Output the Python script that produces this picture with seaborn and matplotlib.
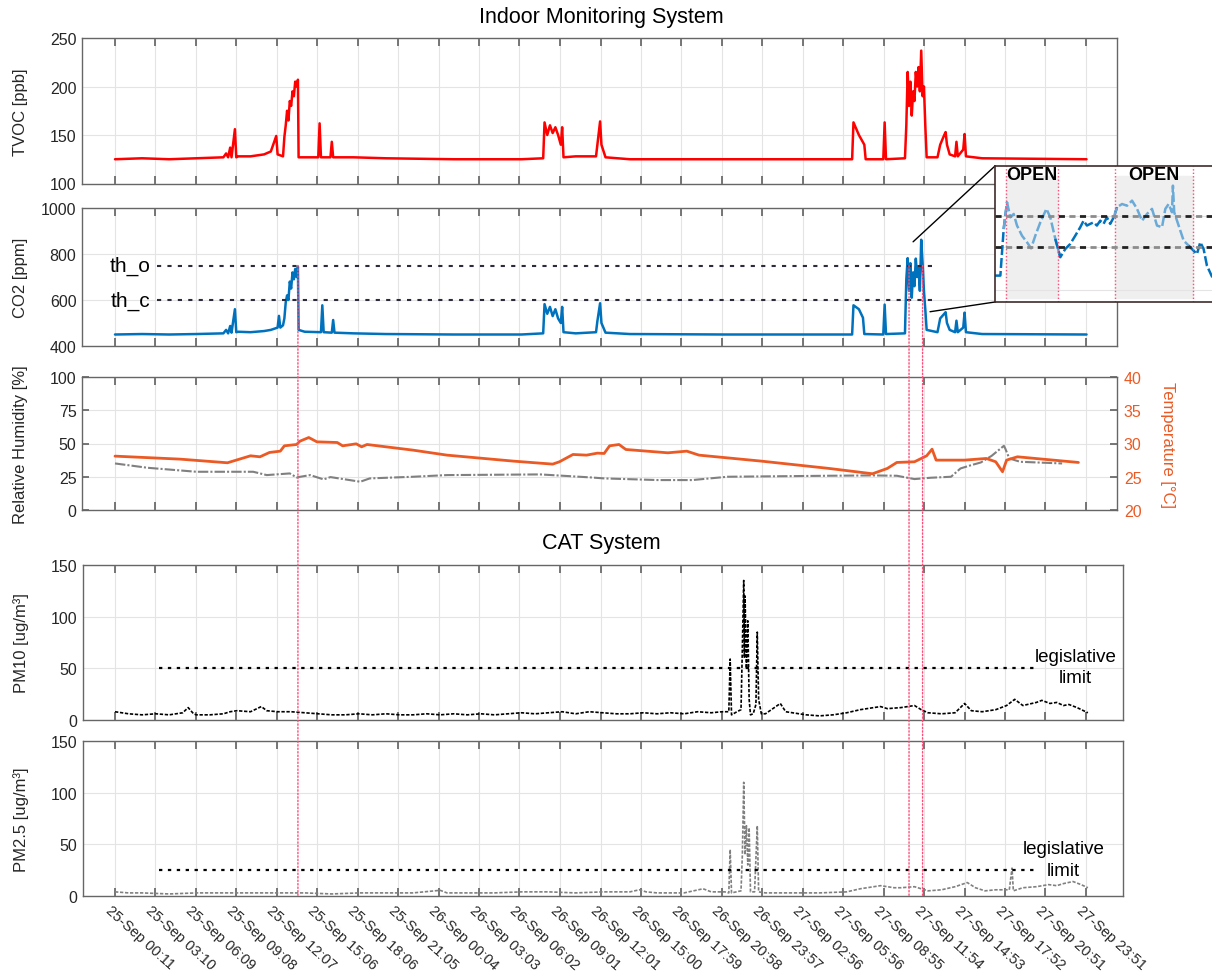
import numpy as np
import pandas as pd
import matplotlib
matplotlib.use('Agg')
import matplotlib.pyplot as plt
from matplotlib.patches import ConnectionPatch
from matplotlib.transforms import ScaledTranslation
import seaborn as sns

# ---------------------------------------------------------------
# data (hours from 25-Sep 00:11)
# ---------------------------------------------------------------
tick_labels = ['25-Sep 00:11', '25-Sep 03:10', '25-Sep 06:09', '25-Sep 09:08', '25-Sep 12:07',
               '25-Sep 15:06', '25-Sep 18:06', '25-Sep 21:05', '26-Sep 00:04', '26-Sep 03:03',
               '26-Sep 06:02', '26-Sep 09:01', '26-Sep 12:01', '26-Sep 15:00', '26-Sep 17:59',
               '26-Sep 20:58', '26-Sep 23:57', '27-Sep 02:56', '27-Sep 05:56', '27-Sep 08:55',
               '27-Sep 11:54', '27-Sep 14:53', '27-Sep 17:52', '27-Sep 20:51', '27-Sep 23:51']

tvoc_h = [0, 2, 4, 6, 8, 8.2, 8.35, 8.5, 8.6, 8.85, 8.95, 9.1,
          10, 11, 11.5, 11.9, 12.0, 12.4,
          12.5, 12.6, 12.7, 12.8, 12.9, 13.0, 13.1, 13.2, 13.3, 13.4, 13.5, 13.55,
          14, 15.0, 15.1, 15.2, 15.9, 16.0, 16.1, 17.6, 20, 25, 30,
          31.6, 31.7, 31.9, 32.1, 32.3, 32.5, 32.7, 32.9, 33.0, 33.1, 34,
          35.5, 35.6, 35.8, 35.9, 36.2, 38, 45, 50,
          54.4, 54.5, 54.9, 55.3, 55.4, 56.7, 56.8, 56.9,
          58.3, 58.4, 58.5, 58.6, 58.7, 58.8, 58.9, 59.0, 59.1, 59.2, 59.3, 59.4, 59.5, 59.6, 59.7, 59.8, 59.9,
          60.7, 60.9, 61.2, 61.3, 61.4, 61.6, 62.0, 62.1, 62.2, 62.6, 62.7, 62.8, 64, 71.7]
tvoc = [125, 126, 125, 126, 127, 131, 127, 137, 127, 156, 127, 128,
        128, 130, 133, 149, 130, 128,
        148, 160, 175, 165, 185, 180, 195, 190, 205, 200, 207, 127,
        127, 127, 162, 127, 127, 143, 127, 127, 126, 125, 125,
        126, 163, 150, 160, 152, 158, 150, 140, 158, 127, 128,
        128, 140, 164, 140, 127, 125, 125, 125,
        125, 163, 150, 140, 125, 125, 163, 125,
        126, 160, 215, 180, 205, 170, 195, 185, 215, 200, 220, 195, 237, 190, 200, 160, 127,
        127, 140, 150, 153, 140, 130, 128, 143, 128, 135, 151, 128, 126, 125]

co2_h = [0, 2, 4, 6, 8, 8.2, 8.35, 8.5, 8.6, 8.85, 8.95, 9.1,
         10, 11, 11.5, 12.0, 12.1, 12.2, 12.4,
         12.5, 12.6, 12.7, 12.8, 12.9, 13.0, 13.1, 13.2, 13.3, 13.4, 13.5, 13.55,
         14, 15.2, 15.3, 15.4, 16.0, 16.1, 16.2, 17.6, 20, 25, 30,
         31.6, 31.7, 31.9, 32.1, 32.3, 32.5, 32.7, 32.9, 33.0, 33.1, 34,
         35.5, 35.6, 35.8, 35.9, 36.2, 38, 45, 50,
         54.4, 54.5, 54.9, 55.2, 55.3, 56.7, 56.8, 56.9,
         58.3, 58.4, 58.5, 58.6, 58.7, 58.8, 58.9, 59.0, 59.1, 59.2, 59.3, 59.4, 59.5, 59.6, 59.7, 59.8, 59.9,
         60.7, 60.9, 61.2, 61.3, 61.4, 61.6, 62.0, 62.1, 62.2, 62.6, 62.7, 62.8, 64, 71.7]
co2 = [450, 452, 450, 452, 455, 470, 455, 487, 458, 560, 460, 462,
       460, 465, 470, 480, 531, 480, 490,
       520, 590, 620, 600, 680, 650, 720, 690, 735, 700, 745, 470,
       462, 460, 577, 460, 458, 513, 458, 455, 452, 450, 450,
       455, 582, 540, 570, 530, 560, 520, 500, 570, 460, 455,
       460, 508, 586, 500, 458, 452, 450, 450,
       450, 577, 560, 523, 452, 450, 580, 452,
       455, 690, 782, 640, 760, 610, 720, 660, 780, 700, 740, 640, 862, 760, 640, 560, 470,
       460, 520, 540, 547, 500, 470, 460, 510, 460, 480, 545, 460, 452, 450]

rh_h = [0, 2.4, 6, 10.2, 11.2, 12.9, 13.4, 14.4, 15.4, 15.9, 18.1, 18.8, 22, 24.5, 31.4,
        35.1, 36.1, 40.1, 42.6, 45.2, 52.7, 55.9, 57.7, 59, 60.2, 61.7, 62.4, 63.2, 63.9,
        64.7, 65.6, 65.7, 66, 66.8, 69.9]
rh = [35, 31.75, 28.75, 28.75, 26.25, 27.5, 24.5, 26.25, 23, 24.75, 21.25, 23.75, 25, 26.25, 26.75,
      24.5, 23.75, 22.5, 22.5, 25, 25.75, 26, 25.75, 23.25, 24.25, 25, 31.25, 33.75, 35.75,
      40.75, 48.25, 46.25, 38.75, 36.25, 35]

temp_h = [0, 4.8, 8.3, 10.0, 10.7, 11.4, 12.2, 12.5, 13.4, 13.65, 14.3, 14.9, 16.4, 16.8, 17.8,
          18.2, 18.6, 22, 24.5, 29.4, 32.3, 32.8, 33.8, 34.8, 35.6, 36.1, 36.5, 37.2, 37.7, 40.8,
          42.2, 43.1, 47.7, 52.7, 55.9, 57.0, 57.7, 59.0, 59.9, 60.3, 60.6, 62.7, 64.3, 65.0, 65.5,
          65.8, 66.6, 71.1]
temp = [28.1, 27.65, 27.1, 28.15, 28.0, 28.65, 28.85, 29.65, 29.85, 30.35, 30.9, 30.25, 30.15, 29.65, 29.95,
        29.5, 29.85, 29.0, 28.25, 27.35, 26.9, 27.25, 28.35, 28.25, 28.55, 28.5, 29.65, 29.85, 29.1, 28.6,
        28.85, 28.25, 27.35, 26.25, 25.45, 26.25, 27.15, 27.25, 28.15, 29.15, 27.5, 27.5, 27.75, 27.25, 25.75,
        27.5, 28.0, 27.15]

pm10_h = [0, 0.5, 1, 2, 3, 4, 5, 5.4, 5.8, 6,
          7, 8, 8.5, 9, 10, 10.8, 11.2, 12, 13, 14,
          15, 16, 17, 18, 19, 20, 21, 22, 23, 24,
          25, 26, 27, 28, 29, 30, 31, 32, 33, 34,
          35, 36, 37, 38, 39, 40, 41, 42, 43, 44,
          44.8, 45.3, 45.4, 45.5, 45.9, 46.2, 46.3, 46.4, 46.45, 46.5,
          46.6, 46.7, 46.8, 46.9, 47.1, 47.3, 47.4, 47.5, 47.7, 48,
          49.1, 49.5, 50, 51, 52, 53, 54, 55, 56, 56.5,
          57, 58, 59, 59.5, 60, 61, 62, 62.7, 63.2, 64,
          65, 65.8, 66.4, 67, 68, 68.4, 69, 69.5, 70, 70.4,
          71, 71.8]
pm10 = [8, 7, 6, 5, 6, 5, 7, 12, 6, 5,
        5, 6, 8, 9, 8, 13, 9, 8, 8, 7,
        6, 5, 5, 6, 5, 6, 5, 5, 6, 5,
        6, 5, 6, 5, 6, 7, 6, 7, 8, 6,
        8, 7, 6, 6, 7, 6, 7, 6, 8, 7,
        8, 8, 59, 5, 8, 10, 70, 135, 60, 120,
        50, 96, 20, 5, 6, 15, 85, 20, 6, 6,
        16, 8, 7, 5, 4, 5, 7, 10, 12, 13,
        11, 12, 14, 10, 7, 6, 7, 16, 9, 8,
        10, 14, 20, 14, 17, 19, 16, 17, 14, 15,
        12, 7]

pm25_h = [0, 1, 2, 4, 6, 8, 10, 12, 14, 16,
          18, 20, 22, 24, 24.5, 26, 28, 30, 32, 34,
          36, 38, 38.7, 39.2, 40, 42, 43.4, 44, 45, 45.3,
          45.4, 45.5, 46.2, 46.3, 46.4, 46.5, 46.6, 46.7, 46.8, 46.9,
          47.2, 47.4, 47.5, 48, 50, 52, 54, 55, 56, 56.5,
          57.5, 58, 59, 60, 61, 62, 62.9, 63.5, 64.2, 65,
          66, 66.2, 66.3, 67, 68, 68.9, 69.5, 70, 70.7, 71.3,
          71.8]
pm25 = [4, 3, 3, 2, 3, 3, 3, 3, 3, 2,
        3, 3, 3, 5.5, 3, 3, 3, 4, 4, 3,
        4, 4, 6, 4, 3, 3, 7, 4, 4, 3,
        45, 3, 5, 40, 110, 40, 68, 30, 66, 4,
        4, 68, 4, 3, 3, 3, 4, 7, 9, 10,
        8, 8, 9, 5, 6, 9, 13, 8, 5, 6,
        6, 27, 5, 8, 9, 11, 10, 12, 14, 11,
        8]

# zoomed CO2 window (minutes)
ins_min = [0, 2.9, 4.7, 6.5, 8.3, 10.1, 11.9, 14.6, 17.3, 19.5,
           21.8, 24.5, 27.8, 29.9, 32.6, 35.3, 38.0, 40.7, 43.4, 46.1,
           47.9, 49.7, 51.5, 53.3, 55.1, 56.9, 58.7, 60.5, 62.3, 64.2,
           66.0, 68.7, 71.4, 74.1, 76.8, 79.5, 82.2, 84.9, 87.6, 90.3,
           92.1, 93.9, 95.7, 96.2, 96.9, 99.3, 102.0, 104.7, 107.4, 109.2,
           111.0, 112.8, 114.6, 117.5]
ins_co2 = [466, 466, 687, 813, 742, 758, 703, 655, 624, 595,
           655, 718, 782, 742, 640, 553, 592, 616, 655, 695,
           726, 703, 711, 718, 703, 726, 711, 742, 711, 742,
           790, 805, 797, 821, 782, 726, 758, 782, 703, 695,
           782, 805, 766, 892, 766, 703, 632, 608, 584, 568,
           624, 592, 513, 458]
open_periods = [(6.1, 34.1), (65.1, 106.9)]

th_o, th_c = 750, 600
pm10_limit, pm25_limit = 50, 25
event_h = [13.5, 58.6, 59.6]

# ---------------------------------------------------------------
sns.set_theme(style='white')
plt.rcParams['font.family'] = ['Liberation Sans', 'DejaVu Sans']

W, H = 1212, 978
fig = plt.figure(figsize=(W / 100, H / 100), dpi=100)

def px_axes(left, top, right, bottom):
    return fig.add_axes([left / W, 1 - bottom / H, (right - left) / W, (bottom - top) / H])

t = pd.to_datetime(['2020 ' + s for s in tick_labels], format='%Y %d-%b %H:%M')
tick_h = np.asarray((t - t[0]).total_seconds() / 3600)
pxh = 13.55  # pixels per hour

TXT = '#262626'
ORANGE = '#EB5A24'
BLUE = '#0072BD'
RED_EV = '#ff4d79'

def style(ax, left, right, ylim, yticks, ylabel, show_x=False):
    ax.set_xlim((left - 115) / pxh, (right - 115) / pxh)
    ax.set_ylim(ylim)
    ax.set_yticks(yticks)
    ax.set_xticks(tick_h)
    ax.set_xticklabels(tick_labels if show_x else [])
    ax.grid(True, color='#e4e4e4', lw=0.8)
    ax.set_axisbelow(True)
    ax.tick_params(axis='x', direction='in', length=6, top=True, bottom=True, color='#666',
                   labelcolor=TXT, labelsize=10.5, pad=5, labelbottom=show_x)
    ax.tick_params(axis='y', direction='in', length=5, color='#666', labelcolor=TXT,
                   labelsize=11.5, pad=4)
    for s in ax.spines.values():
        s.set_color('#666')
        s.set_linewidth(1)
    ax.set_ylabel(ylabel, fontsize=12, color=TXT)
    ax.yaxis.set_label_coords(-0.052, 0.5)
    ax.set_xlabel('')

ax_tvoc = px_axes(82, 39, 1117, 184.5)
ax_co2 = px_axes(82, 209, 1117, 347)
ax_rh = px_axes(82, 378, 1117, 511)
ax_pm10 = px_axes(83, 566, 1123, 721)
ax_pm25 = px_axes(83, 742, 1123, 897)

# TVOC
sns.lineplot(x=tvoc_h, y=tvoc, ax=ax_tvoc, color='#ff0000', lw=1.8, estimator=None)
style(ax_tvoc, 82, 1117, (100, 250), [100, 150, 200, 250], 'TVOC [ppb]')

# CO2
sns.lineplot(x=co2_h, y=co2, ax=ax_co2, color=BLUE, lw=1.8, estimator=None)
style(ax_co2, 82, 1117, (400, 1000), [400, 600, 800, 1000], 'CO2 [ppm]')
for th, name in [(th_o, 'th_o'), (th_c, 'th_c')]:
    ax_co2.plot([3.1, 60.4], [th, th], color='#2b2b3b', lw=1.5, ls=(0, (2, 3)))
    ax_co2.text(2.6, th, name, ha='right', va='center', fontsize=15, color='black')

# RH + temperature
sns.lineplot(x=rh_h, y=rh, ax=ax_rh, color='#808080', lw=1.5, estimator=None,
             linestyle=(0, (5, 1, 1, 1)))
style(ax_rh, 82, 1117, (0, 100), [0, 25, 50, 75, 100], 'Relative Humidity [%]')
ax_t = ax_rh.twinx()
sns.lineplot(x=temp_h, y=temp, ax=ax_t, color=ORANGE, lw=2.0, estimator=None)
ax_t.set_ylim(20, 40)
ax_t.set_yticks([20, 25, 30, 35, 40])
ax_t.tick_params(axis='y', direction='in', length=5, color='#666', labelcolor=ORANGE,
                 labelsize=11.5, pad=5)
ax_t.set_ylabel('Temperature [°C]', fontsize=12, color=ORANGE, rotation=270, va='bottom')
ax_t.yaxis.set_label_coords(1.0415, 0.5)
for s in ax_t.spines.values():
    s.set_visible(False)

# PM10
sns.lineplot(x=pm10_h, y=pm10, ax=ax_pm10, color='black', lw=1.2, estimator=None,
             linestyle=(0, (2, 1)))
style(ax_pm10, 83, 1123, (0, 150), [0, 50, 100, 150], 'PM10 [ug/m³]')
ax_pm10.plot([3.25, 68.2], [pm10_limit, pm10_limit], color='black', lw=1.6, ls=(0, (1.5, 2.5)))
ax_pm10.text(70.9, 51.5, 'legislative\nlimit', ha='center', va='center', fontsize=13.5,
             color='black', linespacing=1.35)

# PM2.5
sns.lineplot(x=pm25_h, y=pm25, ax=ax_pm25, color='#808080', lw=1.2, estimator=None,
             linestyle=(0, (2, 1)))
style(ax_pm25, 83, 1123, (0, 150), [0, 50, 100, 150], 'PM2.5 [ug/m³]', show_x=True)
ax_pm25.plot([3.25, 68.0], [pm25_limit, pm25_limit], color='black', lw=1.6, ls=(0, (1.5, 2.5)))
ax_pm25.text(70.0, 35.5, 'legislative\nlimit', ha='center', va='center', fontsize=13.5,
             color='black', linespacing=1.35)

shift = ScaledTranslation(-3 / 100, 0, fig.dpi_scale_trans)
for lab in ax_pm25.get_xticklabels():
    lab.set_rotation(-42)
    lab.set_ha('left')
    lab.set_va('top')
    lab.set_rotation_mode('anchor')
    lab.set_transform(lab.get_transform() + shift)

# event lines running from CO2 panel down to PM2.5
for h in event_h:
    con = ConnectionPatch(xyA=(h, th_o), coordsA=ax_co2.transData,
                          xyB=(h, 0), coordsB=ax_pm25.transData,
                          color=RED_EV, lw=1.0, ls=(0, (1, 1.5)), zorder=3)
    fig.add_artist(con)

# titles
fig.text(601 / W, 1 - 18 / H, 'Indoor Monitoring System', ha='center', va='center',
         fontsize=15.5, color='black')
fig.text(601 / W, 1 - 543 / H, 'CAT System', ha='center', va='center',
         fontsize=15.5, color='black')

# inset with the zoomed window
ax_in = px_axes(995, 167, 1216, 303)
ax_in.set_zorder(10)
ax_in.set_facecolor('white')
ax_in.set_xlim(0, 119.5)
ax_in.set_ylim(341, 985)
ins_min_a = np.asarray(ins_min)
edges = [0] + [e for p in open_periods for e in p] + [200]
for k in range(len(edges) - 1):
    a, b = edges[k], edges[k + 1]
    i0 = max(np.searchsorted(ins_min_a, a) - 1, 0)
    i1 = np.searchsorted(ins_min_a, b) + 1
    col = '#6aaad8' if k % 2 == 1 else BLUE
    sns.lineplot(x=ins_min[i0:i1], y=ins_co2[i0:i1], ax=ax_in, color=col, lw=1.8,
                 estimator=None, linestyle=(0, (4, 1.2)))
for a, b in open_periods:
    ax_in.axvspan(a, b, ymin=0.03, ymax=0.93, color='#efefef', zorder=0)
    ax_in.axvline(a, color=RED_EV, lw=1.0, ls=(0, (1, 1.5)))
    ax_in.axvline(b, color=RED_EV, lw=1.0, ls=(0, (1, 1.5)))
    ax_in.text((a + b) / 2, 945, 'OPEN', ha='center', va='center', fontsize=13,
               fontweight='bold', color='black')
for th in [th_o, th_c]:
    ax_in.axhline(th, color='#222222', lw=2, ls=(0, (2.2, 5.4)))
    ax_in.axhline(th, color='#8c8c8c', lw=2, ls=(3.8, (2.2, 5.4)))
ax_in.set_yticks([400, 600, 750])
ax_in.set_yticklabels([])
ax_in.set_xticks([])
ax_in.grid(True, axis='y', color='#e4e4e4', lw=0.8)
ax_in.set_axisbelow(True)
ax_in.tick_params(axis='y', direction='in', length=4, color='#333')
ax_in.set_xlabel('')
ax_in.set_ylabel('')
for s in ax_in.spines.values():
    s.set_color('#402b2b')
    s.set_linewidth(1.2)

for xyA, xyB in [((58.9, 853), (0, 1)), ((60.15, 549), (0, 0))]:
    con = ConnectionPatch(xyA=xyA, coordsA=ax_co2.transData, xyB=xyB, coordsB=ax_in.transAxes,
                          color='black', lw=1.0, zorder=4)
    fig.add_artist(con)

fig.savefig('out.png', dpi=100)
